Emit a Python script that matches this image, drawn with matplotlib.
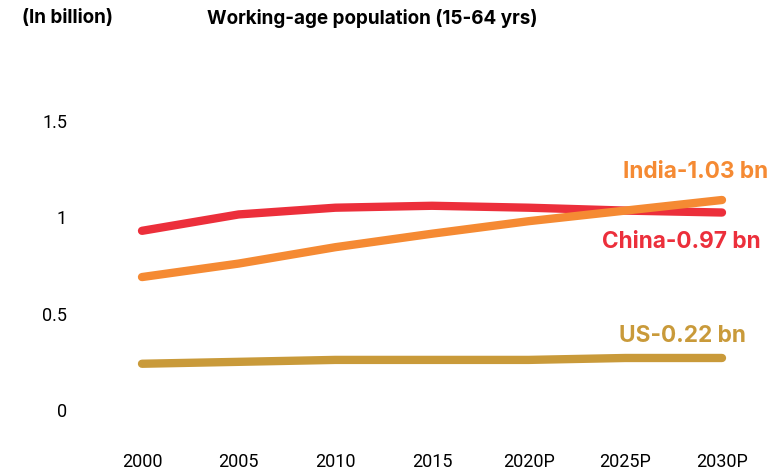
import matplotlib.pyplot as plt

plt.rcParams['font.family'] = ['Roboto', 'DejaVu Sans']

# Data (in billion)
years = ["2000", "2005", "2010", "2015", "2020P", "2025P", "2030P"]
china = [0.93, 1.015, 1.05, 1.06, 1.05, 1.035, 1.025]
india = [0.69, 0.76, 0.845, 0.915, 0.98, 1.035, 1.09]
us = [0.24, 0.25, 0.26, 0.26, 0.26, 0.27, 0.27]

labels = ["China-0.97 bn", "India-1.03 bn", "US-0.22 bn"]
colors = ["#EC2F3B", "#F58A33", "#C99A3A"]

fig = plt.figure(figsize=(7.74, 4.74), dpi=100)
ax = fig.add_axes([142/774, 1-410/474, (722-142)/774, (410-121)/474])

x = list(range(len(years)))
for vals, c in zip([china, india, us], colors):
    ax.plot(x, vals, color=c, lw=6, solid_capstyle='round', clip_on=False)

ax.set_xlim(0, len(years)-1)
ax.set_ylim(0, 1.5)
ax.set_xticks(x)
ax.set_xticklabels(years)
ax.set_yticks([0, 0.5, 1, 1.5])
ax.set_yticklabels(["0", "0.5", "1", "1.5"])
ax.tick_params(axis='x', length=0, pad=31, labelsize=13)
ax.tick_params(axis='y', length=0, pad=54, labelsize=13)
for s in ax.spines.values():
    s.set_visible(False)

lab_font = ['Inter', 'DejaVu Sans']
# end labels
ax.annotate(labels[1], xy=(x[-1], india[-1]), xytext=(33, 20), textcoords='offset points',
            ha='right', va='center', color=colors[1], fontsize=16.3, fontweight='bold', family=lab_font)
ax.annotate(labels[0], xy=(x[-1], china[-1]), xytext=(28, -21), textcoords='offset points',
            ha='right', va='center', color=colors[0], fontsize=16.3, fontweight='bold', family=lab_font)
ax.annotate(labels[2], xy=(x[-1], us[-1]), xytext=(17, 16), textcoords='offset points',
            ha='right', va='center', color=colors[2], fontsize=16.3, fontweight='bold', family=lab_font)

fig.text(22/774, 1-18/474, "(In billion)", ha='left', va='center', fontsize=13.6,
         fontweight='bold', family=lab_font)
fig.text(207/774, 1-18/474, "Working-age population (15-64 yrs)", ha='left', va='center',
         fontsize=13.6, fontweight='bold', family=lab_font)

fig.savefig("out.png", dpi=100)
